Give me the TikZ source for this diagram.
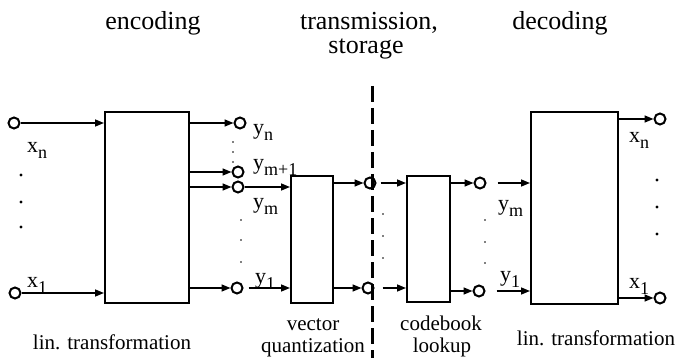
\documentclass[tikz,border=0pt]{standalone}
\usepackage{fontspec}
\setmainfont{Liberation Serif}
\usetikzlibrary{arrows.meta}
\newcommand{\lbsub}[2]{#1\raisebox{-6pt}{\fontsize{18}{18}\selectfont #2}}
\begin{document}
\begin{tikzpicture}[x=1pt,y=-1pt,
  blk/.style={draw,line width=2pt,inner sep=0pt,anchor=north west},
  term/.style={circle,draw,line width=2pt,minimum size=11pt,inner sep=0pt},
  arr/.style={line width=1.5pt,-{Triangle[length=9pt,width=7pt]}},
  ttl/.style={font=\fontsize{26}{28}\selectfont,anchor=base,inner sep=0pt},
  bcap/.style={font=\fontsize{21}{22}\selectfont,anchor=base,inner sep=0pt},
  lab/.style={font=\fontsize{22}{22}\selectfont,anchor=base west,inner sep=0pt},
  bdot/.style={circle,fill,inner sep=0pt,minimum size=3.2pt},
  sdot/.style={circle,fill,inner sep=0pt,minimum size=1.6pt}
]
\useasboundingbox (0,0) rectangle (677,358);

% titles
\node[ttl] (t1) at (153,30) {encoding};
\node[ttl] (t2) at (369,30) {transmission,};
\node[ttl] (t3) at (366,54) {storage};
\node[ttl] (t4) at (560,30) {decoding};

% captions
\node[bcap] (c1) at (112,349) {lin. transformation};
\node[bcap] (c2) at (313,330) {vector};
\node[bcap] (c3) at (313,352) {quantization};
\node[bcap] (c4) at (441,330) {codebook};
\node[bcap] (c5) at (442,352) {lookup};
\node[bcap] (c6) at (596,345) {lin. transformation};

% dashed separation line
\coordinate (dtop) at (372,86);
\coordinate (dbot) at (372,358);
\draw[line width=3pt,dash pattern=on 16pt off 6pt] (dtop) -- (dbot);

% boxes
\node[blk,minimum width=84pt,minimum height=191pt] (enc) at (104,111) {};
\node[blk,minimum width=42pt,minimum height=127pt] (vq) at (290,175) {};
\node[blk,minimum width=43pt,minimum height=126pt] (cb) at (406,175) {};
\node[blk,minimum width=87pt,minimum height=192pt] (dec) at (530,111) {};

% terminals
\node[term] (cxn) at (14,123) {};
\node[term] (cx1) at (15,293) {};
\node[term] (cyn) at (240,123) {};
\node[term] (cym1) at (238,172) {};
\node[term] (cym) at (238,187) {};
\node[term] (cy1) at (237,288) {};
\node[term] (cq1) at (370,183) {};
\node[term] (cq2) at (368,288) {};
\node[term] (cc1) at (480,183) {};
\node[term] (cc2) at (479,291) {};
\node[term] (cox) at (660,119) {};
\node[term] (cox1) at (660,298) {};

% arrows
\draw[arr] (cxn) -- (cxn -| enc.west);
\draw[arr] (cx1) -- (cx1 -| enc.west);
\draw[arr] (enc.east |- cyn) -- (cyn);
\draw[arr] (enc.east |- cym1) -- (cym1);
\draw[arr] (enc.east |- cym) -- (cym);
\draw[arr] (enc.east |- cy1) -- (cy1);
\draw[arr] (cym) -- (cym -| vq.west);
\draw[arr,shorten <=5pt] (cy1) -- (cy1 -| vq.west);
\draw[arr] (vq.east |- cq1) -- (cq1);
\draw[arr] (vq.east |- cq2) -- (cq2);
\draw[arr,shorten <=4pt] (cq1) -- (cq1 -| cb.west);
\draw[arr,shorten <=8pt] (cq2) -- (cq2 -| cb.west);
\draw[arr] (cb.east |- cc1) -- (cc1);
\draw[arr] (cb.east |- cc2) -- (cc2);
\draw[arr,shorten <=11pt] (cc1) -- (cc1 -| dec.west);
\draw[arr,shorten <=11pt] (cc2) -- (cc2 -| dec.west);
\draw[arr] (dec.east |- cox) -- (cox);
\draw[arr] (dec.east |- cox1) -- (cox1);

% labels
\node[lab] (lxn) at (27,153) {\lbsub{x}{n}};
\node[lab] (lx1) at (27,287) {\lbsub{x}{1}};
\node[lab] (lyn) at (253,135) {\lbsub{y}{n}};
\node[lab] (lym1) at (253,170) {\lbsub{y}{m+1}};
\node[lab] (lym) at (253,208) {\lbsub{y}{m}};
\node[lab] (ly1) at (255,283) {\lbsub{y}{1}};
\node[lab] (rym) at (498,211) {\lbsub{y}{m}};
\node[lab] (ry1) at (500,281) {\lbsub{y}{1}};
\node[lab] (rxn) at (629,143) {\lbsub{x}{n}};
\node[lab] (rx1) at (629,288) {\lbsub{x}{1}};

% dots
\node[bdot] (d1) at (21,175) {};
\node[bdot] (d2) at (21,202) {};
\node[bdot] (d3) at (21,227) {};
\node[sdot] (d4) at (233,142) {};
\node[sdot] (d5) at (233,152) {};
\node[sdot] (d6) at (233,162) {};
\node[sdot] (d7) at (241,220) {};
\node[sdot] (d8) at (241,240) {};
\node[sdot] (d9) at (241,262) {};
\node[sdot] (d10) at (383,214) {};
\node[sdot] (d11) at (383,236) {};
\node[sdot] (d12) at (383,258) {};
\node[sdot] (d13) at (485,220) {};
\node[sdot] (d14) at (485,242) {};
\node[sdot] (d15) at (485,263) {};
\node[bdot] (d16) at (657,180) {};
\node[bdot] (d17) at (657,207) {};
\node[bdot] (d18) at (657,234) {};
\end{tikzpicture}
\end{document}
